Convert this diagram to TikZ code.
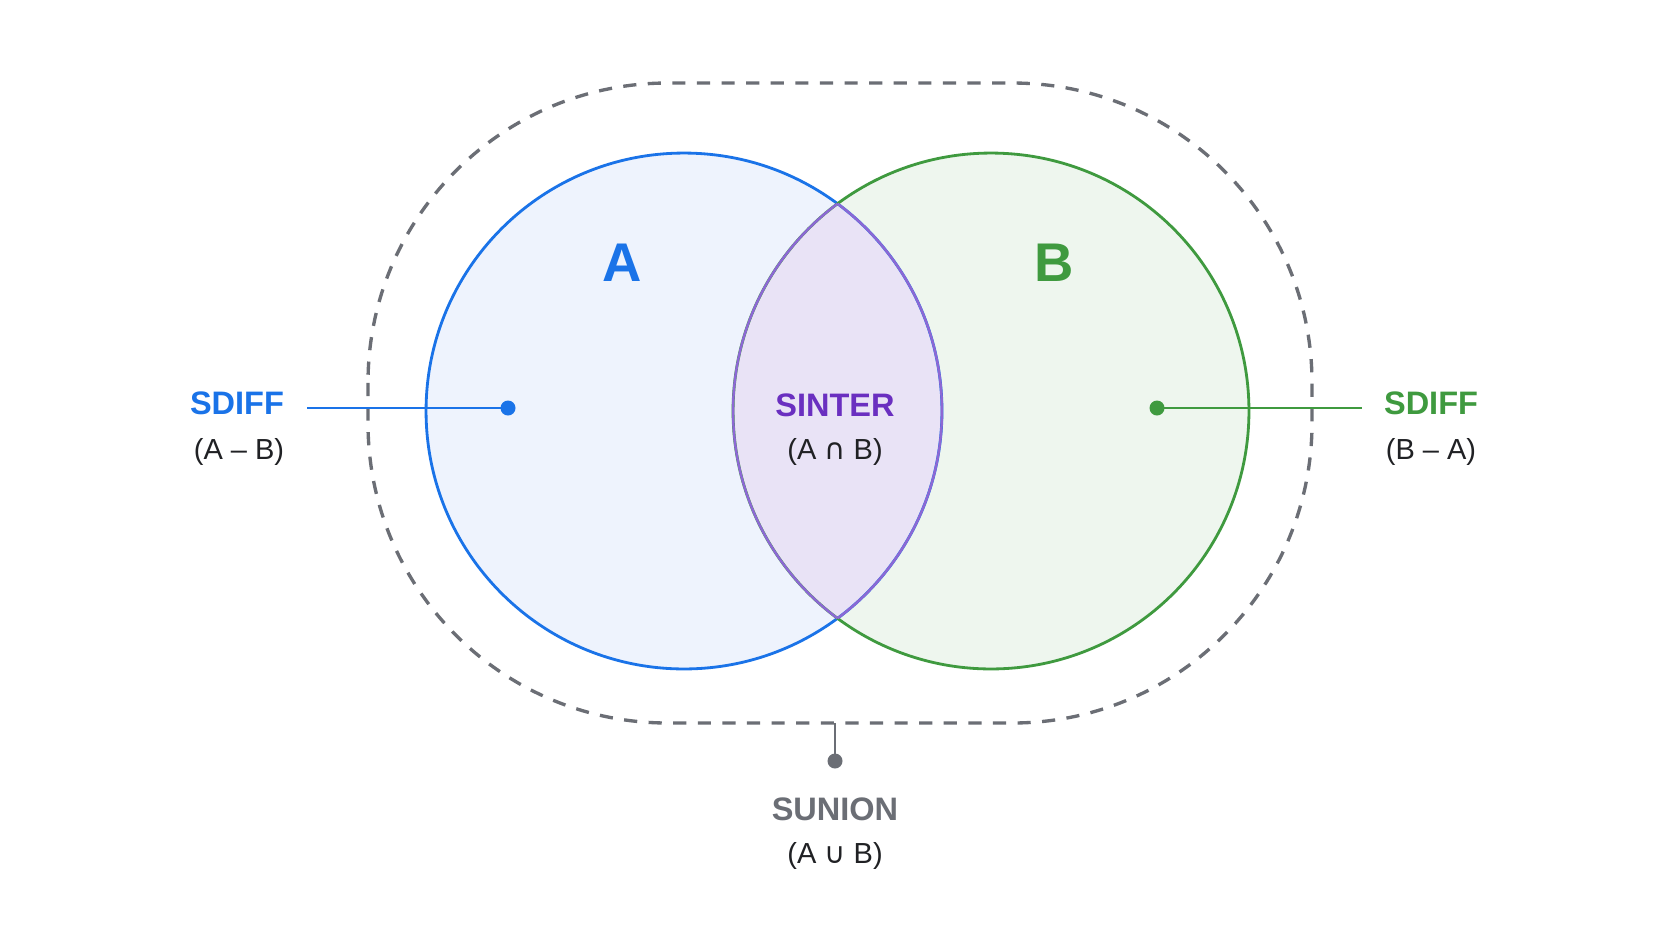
\documentclass[tikz,border=0pt]{standalone}
\usepackage{fontspec}
\setmainfont{Liberation Sans}
\newfontfamily\symf{DejaVu Sans}
\definecolor{ablue}{HTML}{1A73E8}
\definecolor{afill}{HTML}{EEF3FD}
\definecolor{bgreen}{HTML}{3F9A3F}
\definecolor{bfill}{HTML}{EEF6EE}
\definecolor{ipurple}{HTML}{8C68D4}
\definecolor{ifill}{HTML}{E9E3F6}
\definecolor{itext}{HTML}{6A2FC0}
\definecolor{ugray}{HTML}{6B6E75}
\definecolor{dtext}{HTML}{202124}
\tikzset{
  ttl/.style={font=\fontsize{18.5}{22}\selectfont\bfseries, inner sep=0pt},
  subl/.style={font=\fontsize{16.5}{20}\selectfont, text=dtext, inner sep=0pt},
  biglbl/.style={font=\fontsize{31}{36}\selectfont\bfseries, inner sep=0pt},
  dotnode/.style={circle, inner sep=0pt, minimum size=0.3cm},
}
\begin{document}
\begin{tikzpicture}[x=0.02cm,y=-0.02cm]
\useasboundingbox (0,0) rectangle (1672,941);
\fill[white] (0,0) rectangle (1672,941);
% union outline
\draw[ugray, line width=1.9pt, dash pattern=on 7.5pt off 6.5pt, rounded corners=6cm] (368,83) rectangle (1312,723);
\coordinate (cA) at (684,411);
\coordinate (cB) at (991,411);
% fills
\fill[afill] (cA) circle[radius=5.16cm];
\fill[bfill] (cB) circle[radius=5.16cm];
\begin{scope}
  \clip (cA) circle[radius=5.16cm];
  \fill[ifill] (cB) circle[radius=5.16cm];
\end{scope}
% outlines
\draw[ablue, line width=1.6pt] (cA) circle[radius=5.16cm];
\draw[bgreen, line width=1.6pt] (cB) circle[radius=5.16cm];
\begin{scope}
  \clip (cA) circle[radius=5.16cm];
  \draw[ipurple, line width=1.4pt] (cB) circle[radius=5.16cm];
\end{scope}
\begin{scope}
  \clip (cB) circle[radius=5.16cm];
  \draw[ipurple, line width=1.4pt] (cA) circle[radius=5.16cm];
\end{scope}
% set labels
\node[biglbl, text=ablue] (lA) at (622,263) {A};
\node[biglbl, text=bgreen] (lB) at (1054,263) {B};
% left SDIFF
\node[dotnode, fill=ablue] (dA) at (508,408) {};
\coordinate (eA) at (307,408);
\draw[ablue, line width=1.5pt] (eA) -- (dA.center);
\node[ttl, text=ablue] (sdA) at (237,403) {SDIFF};
\node[subl] (sdAs) at (239,452) {(A – B)};
% right SDIFF
\node[dotnode, fill=bgreen] (dB) at (1157,408) {};
\coordinate (eB) at (1362,408);
\draw[bgreen, line width=1.5pt] (dB.center) -- (eB);
\node[ttl, text=bgreen] (sdB) at (1431,403) {SDIFF};
\node[subl] (sdBs) at (1431,452) {(B – A)};
% intersection
\node[ttl, text=itext] (si) at (835,405) {SINTER};
\node[subl] (sis) at (835,452) {(A {\symf ∩} B)};
% union
\coordinate (ub) at (835,723);
\node[dotnode, fill=ugray] (dU) at (835,761) {};
\draw[ugray, line width=1.5pt] (ub) -- (dU.center);
\node[ttl, text=ugray] (su) at (835,809) {SUNION};
\node[subl] (sus) at (835,856) {(A {\symf ∪} B)};
\end{tikzpicture}
\end{document}
